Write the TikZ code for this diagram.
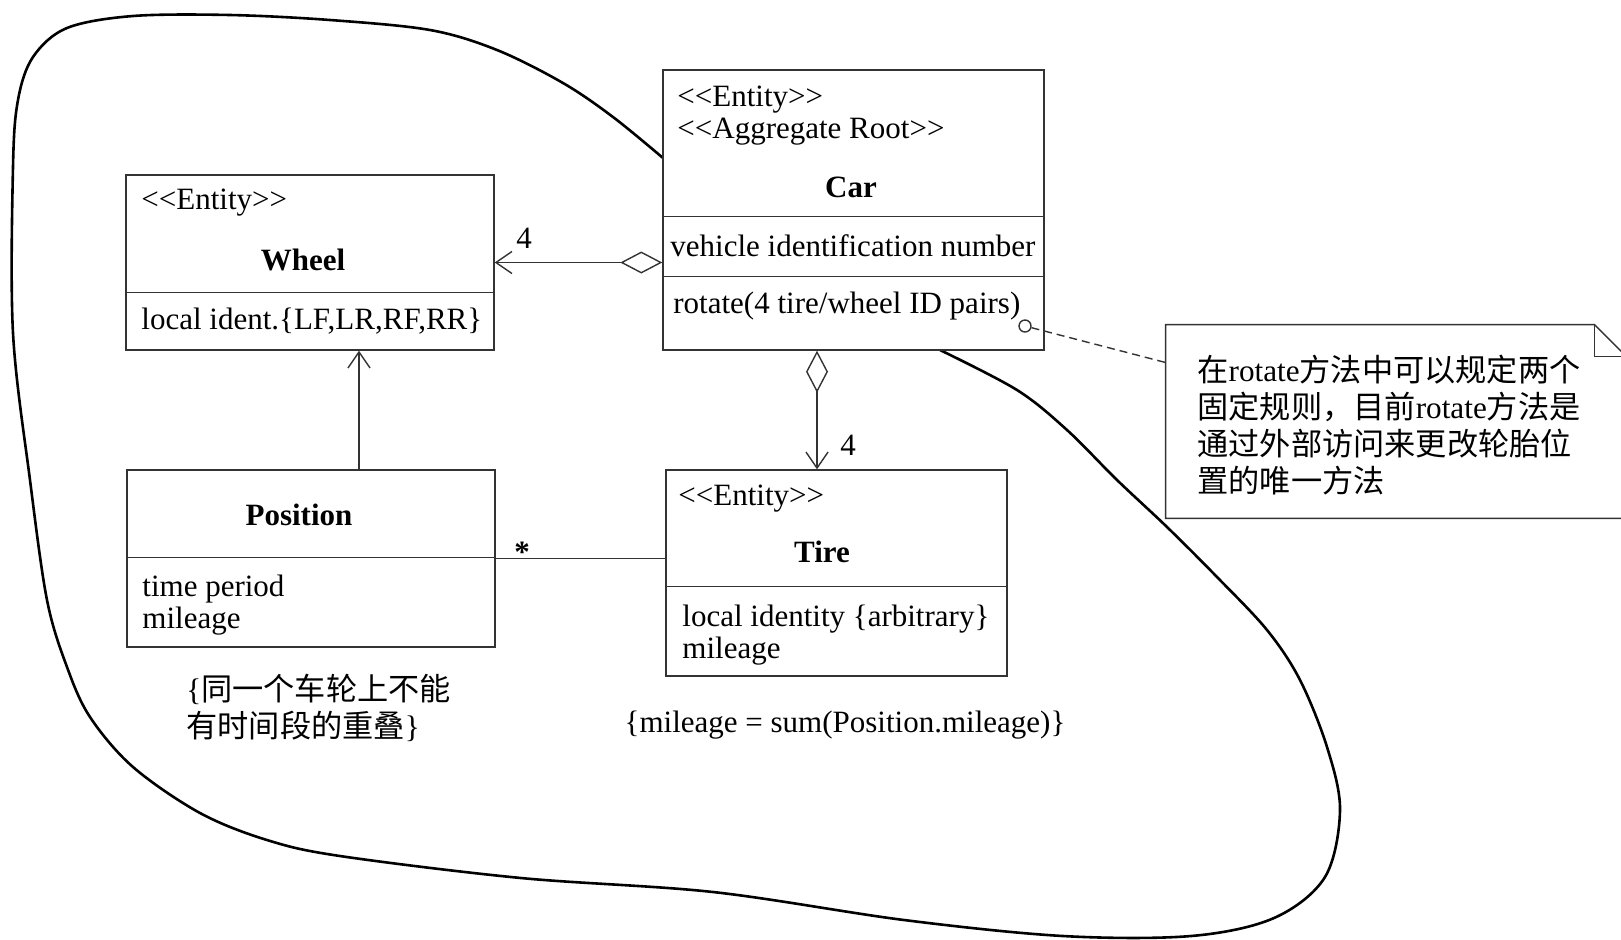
\documentclass[tikz,border=0pt]{standalone}
\usepackage{fontspec}
\setmainfont{Liberation Serif}
\newfontfamily\cjk{Noto Sans CJK SC}
\usetikzlibrary{arrows.meta,calc}
\newcommand{\stereo}[1]{<{}<#1>{}>}
\begin{document}
\begin{tikzpicture}[x=0.5pt,y=-0.5pt,
  classbox/.style={draw=black!80, line width=0.7pt, inner sep=0pt},
  sep/.style={draw=black!80, line width=0.7pt},
  txt/.style={inner sep=0pt, anchor=mid west, font=\fontsize{15.5}{17}\selectfont},
  cname/.style={inner sep=0pt, anchor=mid, font=\fontsize{15.5}{17}\selectfont\bfseries},
  cjktxt/.style={inner sep=0pt, anchor=north west, align=left, font=\fontsize{15.6}{18.5}\selectfont},
  link/.style={draw=black!80, line width=0.7pt},
  aggr/.style={link, {Diamond[open,length=21pt,width=11pt]}-{Straight Barb[length=8pt,width=11pt]}},
  nav/.style={link, -{Straight Barb[length=8pt,width=11pt]}},
  blob/.style={draw=black, line width=1.3pt, line join=round},
]
\useasboundingbox (0,0) rectangle (1621,939);
\fill[white] (0,0) rectangle (1621,939);

% blob (aggregate boundary)
\draw[blob] plot[smooth, tension=0.55] coordinates {
 (663,158) (613,117) (563,83) (497,50) (430,30) (330,20) (230,15) (133,16) (67,28)
 (33,57) (18,100) (13,167) (13,333) (30,480) (47,600) (67,667) (90,717) (133,767)
 (200,813) (267,840) (340,856) (521,878) (713,892) (904,920) (1063,936) (1191,936)
 (1274,918) (1325,877) (1340,810) (1327,747) (1300,680) (1267,630) (1217,577)
 (1167,527) (1117,480) (1067,430) (1017,390) (940,350)};

% classes
\node[classbox, minimum width=190.5pt, minimum height=140pt] (car) at (853.5,210) {};
\draw[sep] ($(car.north west)+(0,147)$) -- ($(car.north east)+(0,147)$);
\draw[sep] ($(car.north west)+(0,207)$) -- ($(car.north east)+(0,207)$);
\node[txt] (carst1) at (677,102) {\stereo{Entity}};
\node[txt] (carst2) at (677,134) {\stereo{Aggregate Root}};
\node[cname] (carname) at (851,193) {Car};
\node[txt] (carattr) at (670,252) {vehicle identification number};
\node[txt] (carop) at (673,309) {rotate(4 tire/wheel ID pairs)};

\node[classbox, minimum width=184pt, minimum height=87.5pt] (wheel) at (310,262.5) {};
\draw[sep] ($(wheel.north west)+(0,118)$) -- ($(wheel.north east)+(0,118)$);
\node[txt] (wheelst) at (141,205) {\stereo{Entity}};
\node[cname] (wheelname) at (303,266) {Wheel};
\node[txt] (wheelattr) at (141,325) {local ident.\{LF,LR,RF,RR\}};

\node[classbox, minimum width=184pt, minimum height=88.5pt] (position) at (311,558.5) {};
\draw[sep] ($(position.north west)+(0,88)$) -- ($(position.north east)+(0,88)$);
\node[cname] (posname) at (299,521) {Position};
\node[txt] (posattr1) at (142,592) {time period};
\node[txt] (posattr2) at (142,624) {mileage};

\node[classbox, minimum width=170.5pt, minimum height=103pt] (tire) at (836.5,573) {};
\draw[sep] ($(tire.north west)+(0,117)$) -- ($(tire.north east)+(0,117)$);
\node[txt] (tirest) at (678,501) {\stereo{Entity}};
\node[cname] (tirename) at (822,558) {Tire};
\node[txt] (tireattr1) at (682,622) {local identity \{arbitrary\}};
\node[txt] (tireattr2) at (682,654) {mileage};

% constraints
\node[cjktxt] (cons1) at (186,674) {\{{\cjk 同一个车轮上不能}\\{\cjk 有时间段的重叠}\}};
\node[inner sep=0pt, anchor=mid, font=\fontsize{15.5}{17}\selectfont] (cons2) at (845,728) {\{mileage = sum(Position.mileage)\}};

% note
\node[inner sep=0pt, minimum width=230pt, minimum height=96.5pt] (note) at (1396,421.5) {};
\draw[link] (note.north west) -- ($(note.north east)+(-32,0)$) -- ($(note.north east)+(0,32)$)
  -- (note.south east) -- (note.south west) -- cycle;
\draw[link] ($(note.north east)+(-32,0)$) -- ($(note.north east)+(-32,32)$) -- ($(note.north east)+(0,32)$);
\node[cjktxt] (notetext) at (1197,355) {{\cjk 在}rotate{\cjk 方法中可以规定两个}\\{\cjk 固定规则，目前}rotate{\cjk 方法是}\\{\cjk 通过外部访问来更改轮胎位}\\{\cjk 置的唯一方法}};

% connectors
\draw[aggr] (car.west |- wheel.east) -- (wheel.east);
\node[inner sep=0pt, font=\fontsize{15.5}{17}\selectfont] (m1) at (524,238) {4};

\coordinate (cartire) at ($(car.south)+(-36.5,0)$);
\draw[aggr] (cartire) -- (cartire |- tire.north);
\node[inner sep=0pt, font=\fontsize{15.5}{17}\selectfont] (m2) at (848,445) {4};

\coordinate (poswheel) at ($(position.north)+(48,0)$);
\draw[nav] (poswheel) -- (poswheel |- wheel.south);

\draw[link] (position.east) -- (tire.west |- position.east);
\node[inner sep=0pt, font=\fontsize{15.5}{17}\selectfont\bfseries] (m3) at (522,552) {*};

\node[draw=black!80, line width=0.7pt, circle, inner sep=0pt, minimum size=6pt, fill=white] (anchorpt) at (1025,326) {};
\coordinate (notein) at ($(note.west)+(0,-59)$);
\draw[link, dashed, dash pattern=on 4pt off 2.5pt] (anchorpt) -- (notein);
\end{tikzpicture}
\end{document}
